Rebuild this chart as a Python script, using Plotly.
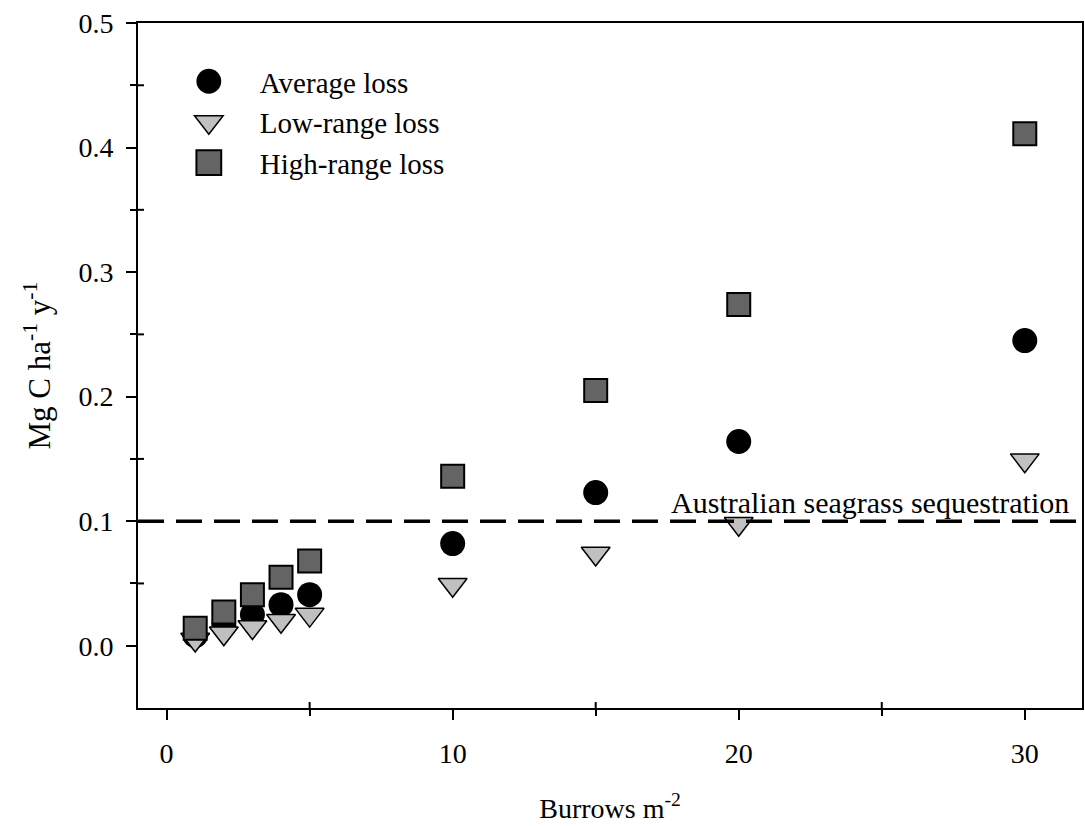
import plotly.graph_objects as go

# ---- data ----
burrows = [1, 2, 3, 4, 5, 10, 15, 20, 30]
average_loss = [0.008, 0.016, 0.025, 0.033, 0.041, 0.082, 0.123, 0.164, 0.245]
low_range_loss = [0.005, 0.010, 0.015, 0.020, 0.025, 0.049, 0.074, 0.098, 0.149]
high_range_loss = [0.014, 0.027, 0.041, 0.055, 0.068, 0.136, 0.205, 0.274, 0.411]
series_names = ["Average loss", "Low-range loss", "High-range loss"]

x_ticks = [0, 10, 20, 30]
x_minor = [5, 15, 25]
y_ticks = [0.0, 0.1, 0.2, 0.3, 0.4, 0.5]
y_tick_text = ["0.0", "0.1", "0.2", "0.3", "0.4", "0.5"]
y_minor = [0.05, 0.15, 0.25, 0.35, 0.45]
sequestration = 0.1
sequestration_label = "Australian seagrass sequestration"

FONT = "Liberation Serif, Times New Roman, serif"
X_RANGE = [-1, 32]
Y_RANGE = [-0.05, 0.5]
PLOT_W = 946
PLOT_H = 685

fig = go.Figure()
fig.add_trace(go.Scatter(
    x=burrows, y=average_loss, mode="markers", name=series_names[0],
    legendgroup="a",
    marker=dict(symbol="circle", size=25, color="black", line=dict(width=0)),
))
fig.add_trace(go.Scatter(
    x=burrows, y=low_range_loss, mode="markers", name=series_names[1],
    legendgroup="b",
    marker=dict(symbol="triangle-down", size=25, color="#c0c0c0",
                line=dict(color="black", width=1.5)),
))
fig.add_trace(go.Scatter(
    x=burrows, y=high_range_loss, mode="markers", name=series_names[2],
    legendgroup="c",
    marker=dict(symbol="square", size=23, color="#646464",
                line=dict(color="black", width=2)),
))

# reference line
fig.add_shape(type="line", xref="paper", x0=0, x1=1, yref="y",
              y0=sequestration, y1=sequestration,
              line=dict(color="black", width=3.5, dash="26px,12px"))
fig.add_annotation(text=sequestration_label, xref="paper", x=0.988,
                   xanchor="right", yref="y", y=sequestration,
                   yanchor="bottom", showarrow=False,
                   font=dict(family=FONT, size=30, color="black"))

# inner halves of the minor ticks (minor ticks cross the axis line)
for v in x_minor:
    fig.add_shape(type="line", xref="x", x0=v, x1=v, yref="paper",
                  y0=0, y1=6 / PLOT_H, line=dict(color="black", width=2))
for v in y_minor:
    fig.add_shape(type="line", yref="y", y0=v, y1=v, xref="paper",
                  x0=0, x1=6 / PLOT_W, line=dict(color="black", width=2))

axis_common = dict(showgrid=False, zeroline=False, showline=True,
                   linewidth=2, linecolor="black", mirror=True,
                   ticks="outside", ticklen=10, tickwidth=2, tickcolor="black",
                   tickfont=dict(family=FONT, size=28))

fig.update_layout(
    width=1085, height=826,
    margin=dict(l=138, r=1, t=23, b=118),
    plot_bgcolor="white", paper_bgcolor="white",
    font=dict(family=FONT, size=28, color="black"),
    showlegend=True,
    legend=dict(x=0.021, y=0.952, xanchor="left", yanchor="top",
                bgcolor="rgba(0,0,0,0)", borderwidth=0, itemwidth=92,
                tracegroupgap=0, font=dict(family=FONT, size=29)),
    xaxis=dict(range=X_RANGE, tickmode="array", tickvals=x_ticks,
               ticklabelstandoff=9,
               minor=dict(tickmode="array", tickvals=x_minor, ticks="outside",
                          ticklen=6, tickwidth=2, tickcolor="black", showgrid=False),
               title=dict(text="Burrows m<sup>-2</sup>", standoff=31,
                          font=dict(family=FONT, size=28)),
               **axis_common),
    yaxis=dict(range=Y_RANGE, tickmode="array", tickvals=y_ticks,
               ticktext=y_tick_text, ticklabelstandoff=7,
               minor=dict(tickmode="array", tickvals=y_minor, ticks="outside",
                          ticklen=6, tickwidth=2, tickcolor="black", showgrid=False),
               title=dict(text="Mg C ha<sup>-1</sup> y<sup>-1</sup>", standoff=19,
                          font=dict(family=FONT, size=31)),
               **axis_common),
)

post = """
var gd = document.getElementById('{plot_id}');
function bigLegend(){
  gd.querySelectorAll('.legend .legendpoints path.scatterpts').forEach(function(p){
    var t = p.getAttribute('transform') || '';
    if (t.indexOf('scale') < 0) { p.setAttribute('transform', t + ' scale(1.55)'); }
    p.setAttribute('vector-effect', 'non-scaling-stroke');
  });
}
bigLegend();
gd.on('plotly_afterplot', bigLegend);
"""

fig.write_html("out.html", post_script=post)
